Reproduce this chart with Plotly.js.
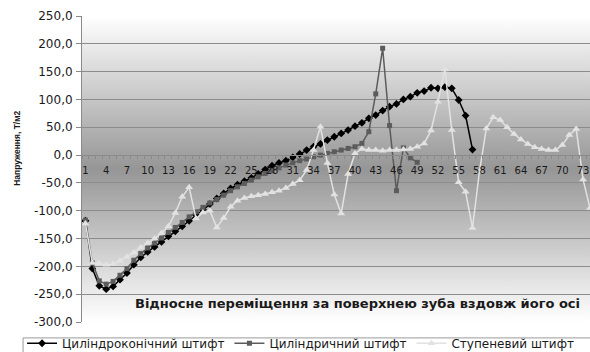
<!DOCTYPE html>
<html>
<head>
<meta charset="utf-8">
<script src="https://cdn.plot.ly/plotly-3.0.1.min.js"></script>
<style>
html,body{margin:0;padding:0;background:#fff;}
#chart{width:590px;height:352px;}
</style>
</head>
<body>
<div id="chart"></div>
<script>
const categories = [1,2,3,4,5,6,7,8,9,10,11,12,13,14,15,16,17,18,19,20,21,22,23,24,25,26,27,28,29,30,31,32,33,34,35,36,37,38,39,40,41,42,43,44,45,46,47,48,49,50,51,52,53,54,55,56,57,58,59,60,61,62,63,64,65,66,67,68,69,70,71,72,73,74];

const cylConical = [-118,-204,-235,-241,-236,-224,-212,-197,-184,-174,
  -165,-156,-146,-137,-128,-118,-108,-98,-88,-78,
  -69,-60,-53,-47,-41,-34,-26,-19,-14,-10,
  -4,2,9,15,20,27,33,39,45,52,
  58,66,72,80,87,92,100,105,112,115,
  121,120,122,120,99,71,10];

const cylindrical = [-117,-194,-226,-232,-227,-216,-204,-189,-177,-167,
  -158,-149,-139,-130,-121,-111,-102,-94,-86,-80,
  -72,-64,-57,-51,-45,-39,-33,-28,-23,-18,
  -14,-10,-7,-3,0,3,6,9,12,15,
  21,42,110,192,53,-64,13,-5,-13];

const stepped = [-123,-194,-195,-197,-196,-190,-183,-175,-166,-158,
  -150,-140,-128,-104,-75,-58,-114,-103,-100,-130,
  -113,-93,-82,-77,-74,-72,-70,-67,-64,-59,
  -52,-45,-27,9,51,-14,-71,-105,-34,3,
  11,9,9,8,9,9,10,11,15,21,
  44,96,154,45,-49,-66,-131,-30,48,68,
  63,50,38,28,20,14,11,9,9,18,
  36,47,-44,-95];

const seriesNames = ['Циліндроконічний штифт','Циліндричний штифт','Ступеневий штифт'];

const xTickVals = [1,4,7,10,13,16,19,22,25,28,31,34,37,40,43,46,49,52,55,58,61,64,67,70,73];
const xTickText = ['1','4','7','10','13','16','19','22','25','28','31','34','37','40','43','46','49','52','55','58','61','64','67','70','73'];
const yTickVals = [-300,-250,-200,-150,-100,-50,0,50,100,150,200,250];
const yTickText = ['-300,0','-250,0','-200,0','-150,0','-100,0','-50,0','0,0','50,0','100,0','150,0','200,0','250,0'];

const xTitle = 'Відносне переміщення за поверхнею зуба вздовж його осі';
const yTitle = 'Напруження, Т/м2';

const yMin = -300, yMax = 250;

const grad = '<svg xmlns="http://www.w3.org/2000/svg" width="10" height="100" viewBox="0 0 10 100" preserveAspectRatio="none">' +
  '<defs><linearGradient id="g" x1="0" y1="0" x2="0" y2="1">' +
  '<stop offset="0" stop-color="#ffffff"/><stop offset="0.5" stop-color="#969696"/><stop offset="1" stop-color="#ffffff"/>' +
  '</linearGradient></defs><rect x="0" y="0" width="10" height="100" fill="url(#g)"/></svg>';
const gradSrc = 'data:image/svg+xml;charset=utf-8,' + encodeURIComponent(grad);

const font = 'DejaVu Sans, Arial, sans-serif';

const traces = [
  {x: categories, y: cylConical, name: seriesNames[0], type: 'scatter', mode: 'lines+markers',
   line: {color: '#000000', width: 1.5}, marker: {symbol: 'diamond', size: 6, color: '#000000'}},
  {x: categories, y: cylindrical, name: seriesNames[1], type: 'scatter', mode: 'lines+markers',
   line: {color: '#5c5c5c', width: 1.5}, marker: {symbol: 'square', size: 5, color: '#5c5c5c'}},
  {x: categories, y: stepped, name: seriesNames[2], type: 'scatter', mode: 'lines+markers',
   line: {color: '#e2e2e2', width: 1.5}, marker: {symbol: 'triangle-up', size: 7, color: '#e2e2e2'}}
];

const layout = {
  width: 590, height: 352,
  margin: {l: 82, r: 0, t: 16, b: 30, pad: 0, autoexpand: false},
  paper_bgcolor: '#ffffff',
  plot_bgcolor: 'rgba(0,0,0,0)',
  showlegend: true,
  separators: ', ',
  font: {family: font, color: '#1a1a1a', size: 11},
  images: [{source: gradSrc, xref: 'paper', yref: 'paper', x: 0, y: 1, sizex: 1, sizey: 1,
            sizing: 'stretch', xanchor: 'left', yanchor: 'top', layer: 'below'}],
  xaxis: {
    type: 'linear', range: [0.5, 74.0], anchor: 'free', position: (0 - yMin) / (yMax - yMin),
    showgrid: false, zeroline: false, showline: true, linecolor: '#8a8a8a', linewidth: 1,
    tickmode: 'array', tickvals: xTickVals, ticktext: xTickText, ticks: '',
    ticklabelstandoff: 6,
    tickfont: {family: font, size: 10, color: '#1a1a1a'},
    minor: {tickmode: 'linear', tick0: 0.5, dtick: 1, ticks: 'outside', ticklen: 3, tickcolor: '#8a8a8a', tickwidth: 1, showgrid: false}
  },
  yaxis: {
    range: [yMin, yMax], showgrid: true, gridcolor: '#8c8c8c', gridwidth: 1, zeroline: false,
    showline: true, linecolor: '#8a8a8a', linewidth: 1,
    tickmode: 'array', tickvals: yTickVals, ticktext: yTickText,
    ticks: 'outside', ticklen: 5, tickcolor: '#8a8a8a',
    ticklabelstandoff: 1,
    tickfont: {family: font, size: 12, color: '#1a1a1a'}
  },
  legend: {
    orientation: 'h', x: -0.118, xanchor: 'left', y: -0.022, yanchor: 'top',
    bgcolor: 'rgba(0,0,0,0)', borderwidth: 0,
    font: {family: font, size: 12, color: '#1a1a1a'},
    itemwidth: 30, tracegroupgap: 0, traceorder: 'normal'
  },
  shapes: [
    {type: 'rect', xref: 'paper', yref: 'paper', x0: -0.116, x1: 1.05, y0: -0.052, y1: -0.3,
     line: {color: '#9a9a9a', width: 1}, fillcolor: 'rgba(0,0,0,0)', layer: 'below'}
  ],
  annotations: [
    {text: '<b>' + xTitle + '</b>', xref: 'paper', yref: 'y', x: 0.543, y: -267, xanchor: 'center', yanchor: 'middle',
     showarrow: false, font: {family: font, size: 13, color: '#1a1a1a'}},
    {text: '<b>' + yTitle + '</b>', xref: 'paper', yref: 'y', x: -0.128, y: 13, xanchor: 'center', yanchor: 'middle',
     textangle: -90, showarrow: false, font: {family: 'Liberation Sans, Arial, sans-serif', size: 8.5, color: '#1a1a1a'}}
  ]
};

Plotly.newPlot('chart', traces, layout, {staticPlot: true, displayModeBar: false});
</script>
</body>
</html>
